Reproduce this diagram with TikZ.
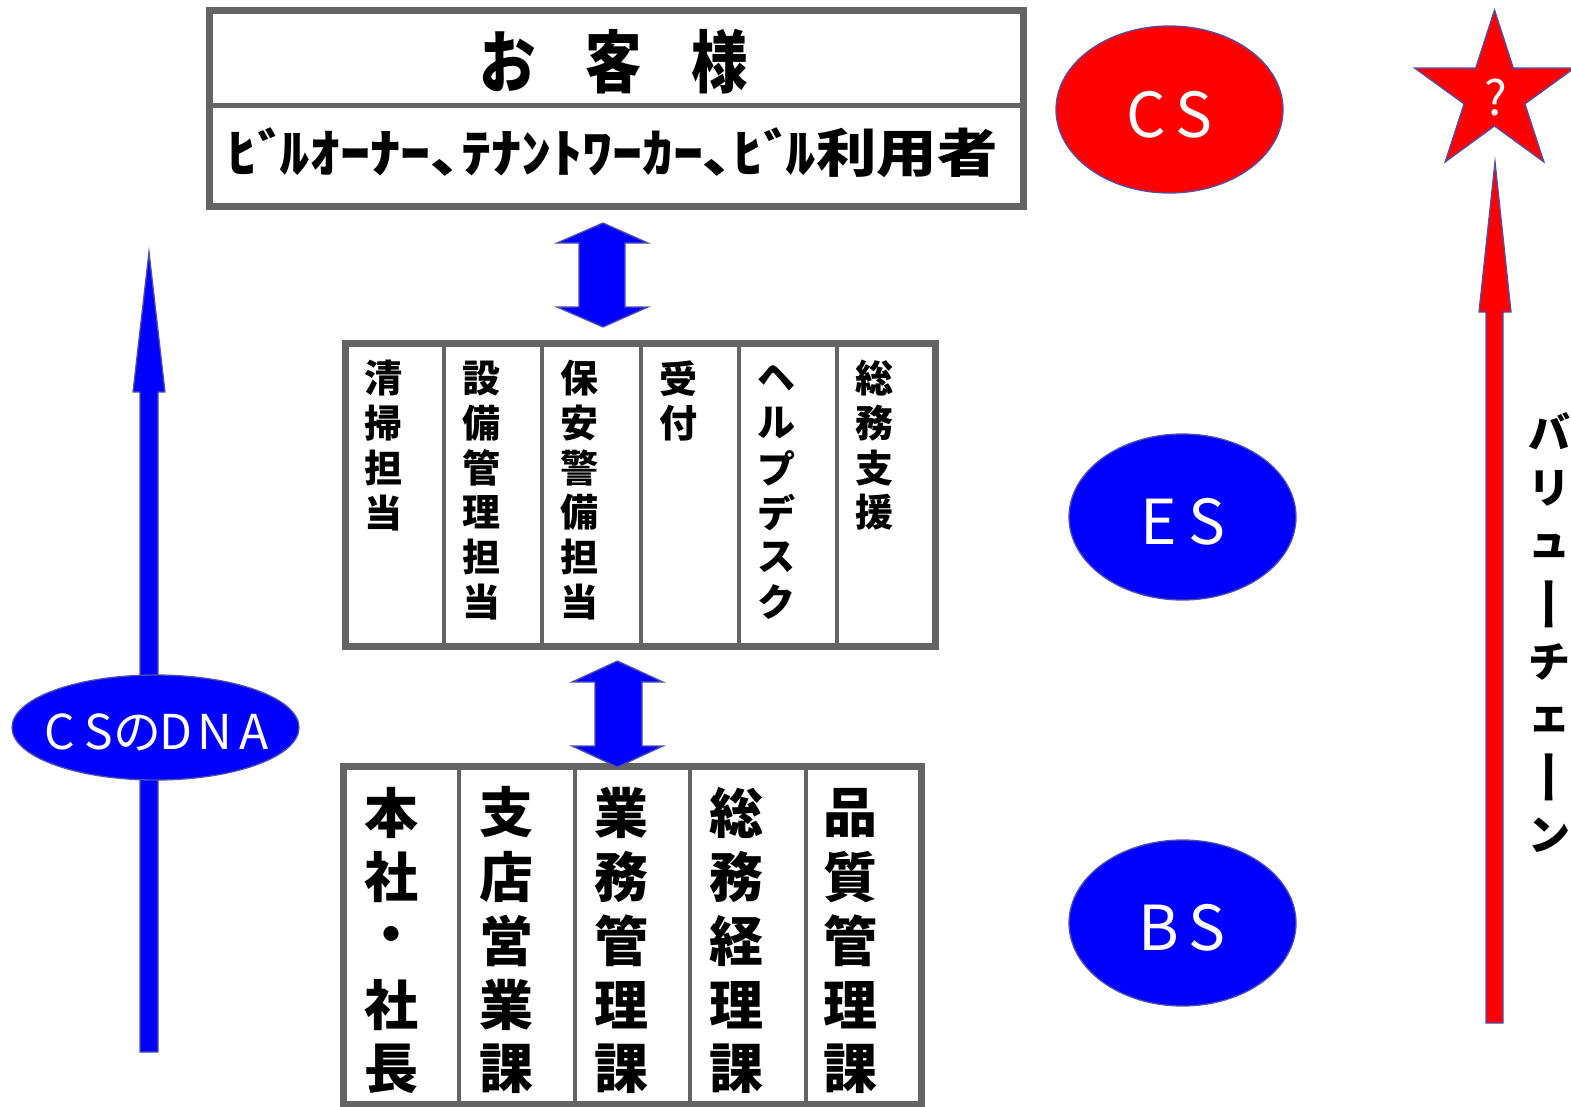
\documentclass[tikz,border=0pt]{standalone}
\usepackage{fontspec}
\usepackage{graphicx}
\usetikzlibrary{shapes.geometric}
\newfontfamily\jp{Noto Sans CJK JP}
\newfontfamily\jpv{Noto Sans CJK JP}[RawFeature=+vert]
\definecolor{outl}{RGB}{80,80,170}
\definecolor{framec}{RGB}{100,100,100}
\definecolor{pureblue}{RGB}{0,0,255}
\definecolor{purered}{RGB}{255,0,0}
\tikzset{
  frameline/.style={draw=framec, line width=7pt},
  divline/.style={draw=framec, line width=4pt},
  bluefill/.style={fill=pureblue, draw=outl, line width=1.3pt},
  redfill/.style={fill=purered, draw=outl, line width=1.3pt},
  chr/.style={inner sep=0pt, text=black},
  wlabel/.style={text=white, inner sep=0pt},
  ell/.style={ellipse, inner sep=0pt},
}
\newcommand\vcolumn[6]{%
  \foreach \ch [count=\i] in {#6}{%
    \node[chr, font={\jp\bfseries\fontsize{#5}{#5}\selectfont}] (#1\i) at (#2,{#3+(\i-1)*#4}) {\ch};
  }}
\newcommand\vbar{\scalebox{1}[1.4]{\jpv\bfseries ー}}
\begin{document}
\begin{tikzpicture}[x=1pt,y=-1pt]
\useasboundingbox (0,0) rectangle (1571,1106);
\fill[white] (0,0) rectangle (1571,1106);

% ---- top box
\draw[frameline] (209.5,10) rectangle (1023.5,206.5);
\draw[divline, line width=5pt] (209.5,105.5) -- (1023.5,105.5);
\node[chr, font={\jp\bfseries\fontsize{68}{68}\selectfont}] (guest) at (614,62)
  {\scalebox{0.83}[1]{お\hspace{60pt}客\hspace{60pt}様}};
\node[chr, font={\jp\bfseries\fontsize{52}{52}\selectfont}] (users) at (612.5,153)
  {\resizebox{770pt}{\height}{ﾋﾞ\kern-7pt ﾙｵｰﾅｰ､ﾃﾅﾝﾄﾜｰｶｰ､ﾋﾞ\kern-7pt ﾙ利用者}};

% ---- double arrow 1
\draw[bluefill] (603,223) -- (648,243) -- (625,243) -- (625,307) -- (648,307) -- (603,327)
  -- (557,307) -- (579,307) -- (579,243) -- (557,243) -- cycle;

% ---- middle table
\draw[frameline] (345,343.5) rectangle (935,646.5);
\foreach \x in {444,542,640.5,739,837} \draw[divline] (\x,343.5) -- (\x,646.5);
\vcolumn{ma}{383}{378.5}{44.7}{38}{清,掃,担,当}
\vcolumn{mb}{481.5}{378.5}{44.7}{38}{設,備,管,理,担,当}
\vcolumn{mc}{579.5}{378.5}{44.7}{38}{保,安,警,備,担,当}
\vcolumn{md}{678.5}{378.5}{44.7}{38}{受,付}
\vcolumn{me}{776.5}{378.5}{44.7}{38}{ヘ,ル,プ,デ,ス,ク}
\vcolumn{mf}{874.5}{378.5}{44.7}{38}{総,務,支,援}

% ---- bottom table
\draw[frameline] (343.5,766.5) rectangle (921,1104);
\foreach \x in {459,574.5,690,805.5} \draw[divline] (\x,766.5) -- (\x,1104);
\vcolumn{ba}{391}{812.5}{64.1}{54}{本,社,・,社,長}
\vcolumn{bb}{506}{812.5}{64.1}{54}{支,店,営,業,課}
\vcolumn{bc}{621}{812.5}{64.1}{54}{業,務,管,理,課}
\vcolumn{bd}{736}{812.5}{64.1}{54}{総,務,経,理,課}
\vcolumn{be}{850}{812.5}{64.1}{54}{品,質,管,理,課}

% ---- double arrow 2
\draw[bluefill] (617.5,661) -- (663,682) -- (642,682) -- (642,746) -- (663,746) -- (617.5,767)
  -- (572,746) -- (595,746) -- (595,682) -- (572,682) -- cycle;

% ---- left arrow + CS DNA
\draw[bluefill] (149,252) -- (165,392) -- (158,392) -- (158,1052) -- (140,1052) -- (140,392) -- (133,392) -- cycle;
\node[ell, bluefill, minimum width=287pt, minimum height=105pt] (dna) at (155.5,727.5) {};
\node[wlabel, font={\jp\fontsize{48}{48}\selectfont}] (dnat) at (157,732.5)
  {\makebox[38.8pt]{C}\makebox[38.8pt]{S}\makebox[38.8pt]{の}\makebox[38.8pt]{D}\makebox[38.8pt]{N}\makebox[38.8pt]{A}};

% ---- ellipses CS ES BS
\node[ell, redfill, minimum width=227pt, minimum height=167pt] (cs) at (1169.5,109.5) {};
\node[wlabel, font={\jp\fontsize{62}{62}\selectfont}] (cst) at (1170,114.5)
  {\makebox[47.5pt]{C}\makebox[47.5pt]{S}};
\node[ell, bluefill, minimum width=227pt, minimum height=166pt] (es) at (1182.5,517) {};
\node[wlabel, font={\jp\fontsize{62}{62}\selectfont}] (est) at (1183,522)
  {\makebox[48pt]{E}\makebox[48pt]{S}};
\node[ell, bluefill, minimum width=227pt, minimum height=166pt] (bs) at (1182.5,923) {};
\node[wlabel, font={\jp\fontsize{62}{62}\selectfont}] (bst) at (1183,927.5)
  {\makebox[48pt]{B}\makebox[48pt]{S}};

% ---- star + right arrow
\begin{scope}[shift={(1494.5,94)}]
\draw[redfill] (-90:84) -- (-54:32) -- (-18:84) -- (18:32) -- (54:84) -- (90:32)
  -- (126:84) -- (162:32) -- (198:84) -- (234:32) -- cycle;
\end{scope}
\node[wlabel, font={\jp\fontsize{48}{48}\selectfont}] (q) at (1496,97.5) {?};
\draw[redfill] (1495,162) -- (1511,312) -- (1503,312) -- (1503,1023) -- (1486,1023) -- (1486,312) -- (1479,312) -- cycle;

\vcolumn{vc}{1549}{431}{57.7}{42}{バ,リ,ュ,\vbar,チ,ェ,\vbar,ン}
\end{tikzpicture}
\end{document}
